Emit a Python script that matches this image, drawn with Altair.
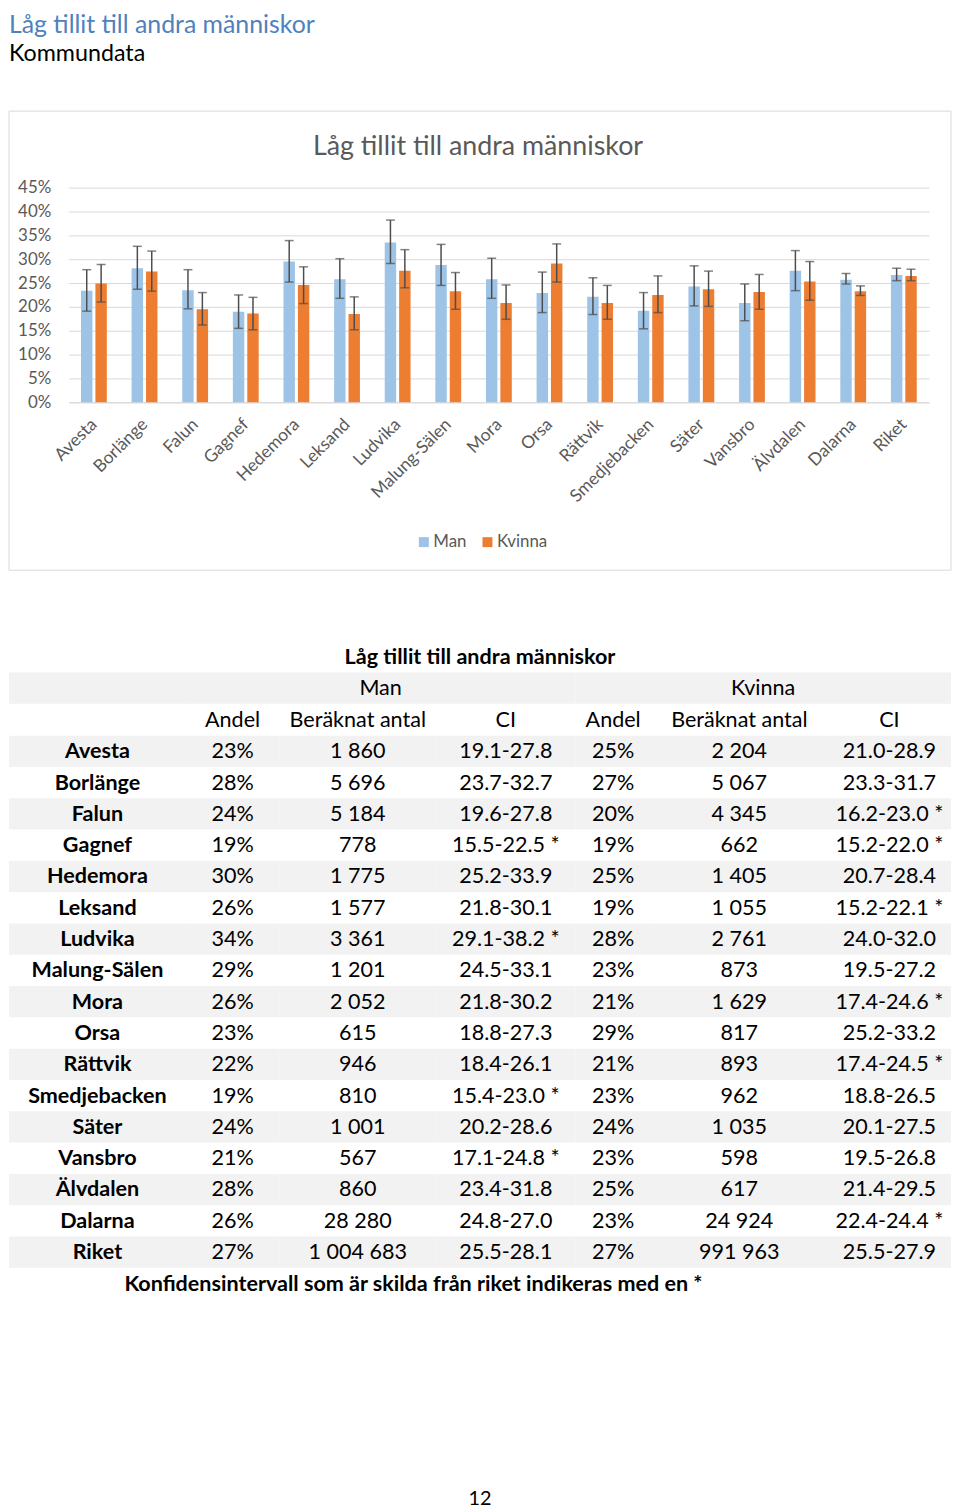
import altair as alt
import pandas as pd

FONT = "Lato"
GREY_TXT = "#595959"
GRID = "#d9d9d9"
SHADE = "#f2f2f2"
ERR = "#4d4d4d"

kommuner = ["Avesta", "Borlänge", "Falun", "Gagnef", "Hedemora", "Leksand", "Ludvika",
            "Malung-Sälen", "Mora", "Orsa", "Rättvik", "Smedjebacken", "Säter", "Vansbro",
            "Älvdalen", "Dalarna", "Riket"]
man_bar = [23.4, 28.1, 23.5, 19.0, 29.5, 25.8, 33.5, 28.8, 25.8, 22.9, 22.1, 19.2, 24.3, 20.8, 27.6, 25.7, 26.7]
kvinna_bar = [24.9, 27.4, 19.5, 18.6, 24.6, 18.5, 27.6, 23.3, 20.8, 29.1, 20.8, 22.5, 23.7, 23.1, 25.3, 23.3, 26.5]
man_andel = ["23%", "28%", "24%", "19%", "30%", "26%", "34%", "29%", "26%", "23%", "22%", "19%", "24%", "21%", "28%", "26%", "27%"]
man_antal = ["1 860", "5 696", "5 184", "778", "1 775", "1 577", "3 361", "1 201", "2 052", "615", "946", "810", "1 001", "567", "860", "28 280", "1 004 683"]
man_ci = ["19.1-27.8", "23.7-32.7", "19.6-27.8", "15.5-22.5 *", "25.2-33.9", "21.8-30.1", "29.1-38.2 *", "24.5-33.1", "21.8-30.2", "18.8-27.3", "18.4-26.1", "15.4-23.0 *", "20.2-28.6", "17.1-24.8 *", "23.4-31.8", "24.8-27.0", "25.5-28.1"]
kvinna_andel = ["25%", "27%", "20%", "19%", "25%", "19%", "28%", "23%", "21%", "29%", "21%", "23%", "24%", "23%", "25%", "23%", "27%"]
kvinna_antal = ["2 204", "5 067", "4 345", "662", "1 405", "1 055", "2 761", "873", "1 629", "817", "893", "962", "1 035", "598", "617", "24 924", "991 963"]
kvinna_ci = ["21.0-28.9", "23.3-31.7", "16.2-23.0 *", "15.2-22.0 *", "20.7-28.4", "15.2-22.1 *", "24.0-32.0", "19.5-27.2", "17.4-24.6 *", "25.2-33.2", "17.4-24.5 *", "18.8-26.5", "20.1-27.5", "19.5-26.8", "21.4-29.5", "22.4-24.4 *", "25.5-27.9"]
kon = ["Man", "Kvinna"]
y_ticks = [0, 5, 10, 15, 20, 25, 30, 35, 40, 45]

page_title = "Låg tillit till andra människor"
page_subtitle = "Kommundata"
chart_title = "Låg tillit till andra människor"
table_title = "Låg tillit till andra människor"
col_headers = ["", "Andel", "Beräknat antal", "CI", "Andel", "Beräknat antal", "CI"]
footnote = "Konfidensintervall som är skilda från riket indikeras med en *"
page_number = "12"


def ci_bounds(s):
    a, b = s.replace("*", "").strip().split("-")
    return float(a), float(b)


recs = []
for i, k in enumerate(kommuner):
    for g, val, ci in (("Man", man_bar[i], man_ci[i]), ("Kvinna", kvinna_bar[i], kvinna_ci[i])):
        lo, hi = ci_bounds(ci)
        recs.append({"kommun": k, "kon": g, "value": val, "lo": lo, "hi": hi})
bars_df = pd.DataFrame(recs)

W, H = 866, 216
ROW = 31.5
TFS = 21.7
FULL_W = 948


def text_cell(text, width, height, bold=False, size=TFS, fill=None, title=None):
    ch = alt.Chart(alt.Data(values=[{"t": text}])).mark_text(
        font=FONT, fontSize=size, fontWeight="bold" if bold else "normal", color="#000000"
    ).encode(text="t:N")
    props = dict(width=width, height=height)
    if fill:
        props["view"] = alt.ViewBackground(fill=fill, strokeWidth=0)
    if title is not None:
        props["title"] = title
    return ch.properties(**props)


x = alt.X("kommun:N", sort=kommuner, title=None,
          scale=alt.Scale(paddingInner=0.49, paddingOuter=0.245),
          axis=alt.Axis(labelAngle=-45, labelFont=FONT, labelFontSize=17.5, labelColor=GREY_TXT,
                        ticks=False, domainColor=GRID, domainWidth=1, labelPadding=13,
                        labelOffset=-6, labelOverlap=False, grid=False))
xo = alt.XOffset("kon:N", sort=kon, scale=alt.Scale(paddingInner=0.207, paddingOuter=0))
y_axis = alt.Axis(values=y_ticks, labelExpr="datum.value + '%'", domain=False, ticks=False,
                  gridColor=GRID, gridWidth=1, labelFont=FONT, labelFontSize=17,
                  labelColor=GREY_TXT, labelPadding=18, title=None)
yscale = alt.Scale(domain=[0, 45], nice=False)

base = alt.Chart(bars_df)
bars = base.mark_bar().encode(
    x=x, xOffset=xo,
    y=alt.Y("value:Q", scale=yscale, axis=y_axis, title=None),
    color=alt.Color("kon:N", sort=kon,
                    scale=alt.Scale(domain=kon, range=["#9dc3e6", "#ed7d31"]),
                    legend=alt.Legend(title=None, orient="none", legendX=349, legendY=348,
                                      direction="horizontal", symbolType="square", symbolSize=100,
                                      labelFont=FONT, labelFontSize=17, labelColor=GREY_TXT,
                                      columnPadding=12, labelOffset=1, symbolStrokeWidth=0,
                                      padding=0)),
)
rules = base.mark_rule(color=ERR, strokeWidth=1.5).encode(
    x=x, xOffset=xo, y=alt.Y("lo:Q", scale=yscale, axis=y_axis, title=None), y2="hi:Q")
caps = base.transform_fold(["lo", "hi"], as_=["end", "endval"]).mark_tick(
    color=ERR, thickness=1.5, size=9).encode(
    x=x, xOffset=xo, y=alt.Y("endval:Q", scale=yscale, axis=y_axis, title=None))
frame = alt.Chart(alt.Data(values=[{"f": 1}])).mark_rect(
    fillOpacity=0, stroke=GRID, strokeWidth=1).encode(
    x=alt.value(-60), x2=alt.value(888), y=alt.value(-77), y2=alt.value(385))

main = alt.layer(frame, bars, rules, caps).properties(
    width=W, height=H,
    title=alt.TitleParams(chart_title, font=FONT, fontSize=27, fontWeight="normal",
                          color=GREY_TXT, anchor="middle", dx=-21, offset=-51))

chart_a = alt.hconcat(text_cell("", 60, H), main, spacing=0, bounds="flush").resolve_legend(
    color="independent")


def column(header, values, width, bold=False):
    data = [{"r": 0, "t": header, "shade": False}] + [
        {"r": i + 1, "t": v, "shade": i % 2 == 0} for i, v in enumerate(values)]
    b = alt.Chart(alt.Data(values=data))
    yenc = alt.Y("r:O", axis=None,
                 scale=alt.Scale(domain=list(range(len(data))), paddingInner=0, paddingOuter=0))
    shade = b.transform_filter("datum.shade").mark_rect(color=SHADE).encode(y=yenc)
    txt = b.mark_text(font=FONT, fontSize=TFS, fontWeight="bold" if bold else "normal",
                      color="#000000").encode(y=yenc, text="t:N")
    return alt.layer(shade, txt).properties(width=width, height=ROW * len(data))


col_widths = [178, 94, 158, 140, 76, 178, 124]
col_values = [kommuner, man_andel, man_antal, man_ci, kvinna_andel, kvinna_antal, kvinna_ci]
body = alt.hconcat(*[
    column(col_headers[j], col_values[j], col_widths[j], bold=(j == 0)) for j in range(7)
], spacing=0)

h1 = alt.hconcat(
    text_cell("", col_widths[0], ROW, fill=SHADE),
    text_cell(kon[0], sum(col_widths[1:4]), ROW, fill=SHADE),
    text_cell(kon[1], sum(col_widths[4:7]), ROW, fill=SHADE),
    spacing=0)

table = alt.vconcat(
    text_cell(table_title, FULL_W, 32, bold=True),
    h1,
    body,
    text_cell(footnote, 814, 32, bold=True),
    spacing=0)

header = text_cell("", FULL_W, 1, title=alt.TitleParams(
    page_title, subtitle=page_subtitle, anchor="start", frame="group",
    font=FONT, fontSize=25, fontWeight="normal", color="#4f81bd",
    subtitleFont=FONT, subtitleFontSize=23.4, subtitleColor="#000000",
    subtitlePadding=5, offset=0))

chart = alt.vconcat(
    header,
    text_cell("", FULL_W, 22),
    chart_a,
    text_cell("", FULL_W, 70),
    table,
    text_cell("", FULL_W, 191),
    text_cell(page_number, FULL_W, 12, size=20),
    spacing=0, padding=0,
).configure_view(strokeWidth=0)

chart.save("out.html", embed_options={"renderer": "svg", "actions": False})
